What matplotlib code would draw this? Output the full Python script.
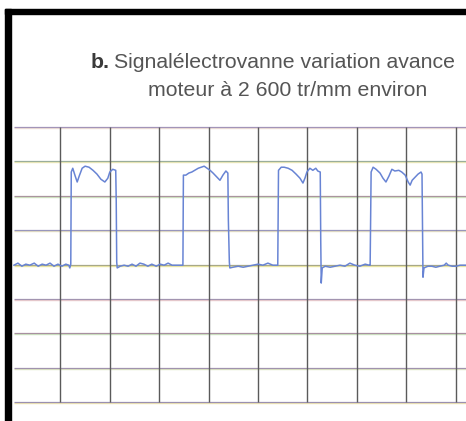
import matplotlib
matplotlib.use('Agg')
import matplotlib.pyplot as plt
from matplotlib.patches import Rectangle

# trace sampled off the scope screen, time and amplitude in grid divisions
t_div = [
    0.06, 0.14, 0.22, 0.30, 0.38, 0.47, 0.55, 0.63, 0.71, 0.79, 0.87, 0.95, 1.03, 1.11, 1.17, 1.19,
    1.21, 1.22, 1.25, 1.30, 1.34, 1.38, 1.44, 1.50, 1.58, 1.66, 1.74, 1.82, 1.90, 1.96, 2.00, 2.06, 2.12, 2.13, 2.14, 2.15,
    2.21, 2.29, 2.37, 2.45, 2.53, 2.61, 2.69, 2.77, 2.85, 2.94, 3.02, 3.10, 3.18, 3.26, 3.34, 3.48,
    3.49, 3.54, 3.60, 3.66, 3.72, 3.79, 3.85, 3.91, 3.97, 4.03, 4.09, 4.17, 4.23, 4.29, 4.35, 4.39, 4.40, 4.42, 4.43,
    4.49, 4.60, 4.70, 4.80, 4.90, 5.00, 5.10, 5.20, 5.30, 5.40,
    5.415, 5.47, 5.53, 5.61, 5.69, 5.77, 5.85, 5.91, 5.95, 5.99, 6.05, 6.11, 6.17, 6.21, 6.26, 6.27, 6.28, 6.30,
    6.36, 6.46, 6.56, 6.66, 6.76, 6.86, 6.96, 7.06, 7.17, 7.25, 7.27,
    7.29, 7.33, 7.39, 7.47, 7.53, 7.59, 7.65, 7.71, 7.77, 7.85, 7.91, 7.98, 8.04, 8.08, 8.12, 8.18, 8.24, 8.30, 8.32, 8.33, 8.34, 8.36,
    8.44, 8.52, 8.60, 8.68, 8.77, 8.81, 8.85, 8.93, 9.01, 9.09, 9.21,
]
u_div = [
    3.98, 4.04, 3.95, 4.01, 3.98, 4.04, 3.95, 4.01, 3.98, 4.04, 3.95, 4.01, 3.95, 4.01, 3.98, 3.90,
    4.01, 6.69, 6.80, 6.57, 6.40, 6.57, 6.80, 6.86, 6.83, 6.74, 6.63, 6.48, 6.40, 6.51, 6.69, 6.77, 6.74, 5.87, 4.07, 3.90,
    3.95, 3.98, 3.95, 4.01, 3.95, 4.04, 4.01, 3.95, 4.01, 3.95, 4.01, 3.98, 4.04, 3.98, 3.98, 3.98,
    6.60, 6.60, 6.66, 6.69, 6.74, 6.80, 6.83, 6.86, 6.80, 6.74, 6.66, 6.54, 6.45, 6.60, 6.72, 6.66, 5.29, 4.07, 3.90,
    3.92, 3.95, 3.92, 3.95, 3.98, 4.01, 3.98, 4.04, 3.98, 3.98,
    6.74, 6.83, 6.83, 6.80, 6.74, 6.63, 6.51, 6.37, 6.51, 6.69, 6.80, 6.74, 6.80, 6.72, 6.69, 4.71, 3.46, 3.90,
    3.95, 3.92, 3.95, 3.98, 3.95, 4.04, 3.98, 3.95, 4.01, 3.98, 3.98,
    6.69, 6.83, 6.77, 6.66, 6.51, 6.40, 6.57, 6.77, 6.72, 6.74, 6.69, 6.60, 6.40, 6.31, 6.45, 6.54, 6.63, 6.69, 6.63, 5.00, 3.63, 3.90,
    3.95, 3.95, 3.92, 3.95, 3.98, 4.04, 3.98, 3.95, 3.95, 3.98, 3.98,
]

v_lines = [1, 2, 3, 4, 5, 6, 7, 8, 9]
h_lines = [0, 1, 2, 3, 4, 5, 6, 7, 8]
# printed grid has slightly misregistered colour passes
h_colors = ['#9a90b0', '#a092ae', '#a890a0', '#a294b0', '#a8a888', '#9896bc', '#aa949e', '#9aae9a', '#a294b8']
h_fringe = ['#eee2a0', '#d6e2b4', '#c2e2b4', '#eac4c4', '#eee890', '#e2dab4', '#c8e4b4', '#eee8a8', '#eedad0']

title_1 = 'Signalélectrovanne variation avance'
title_2 = 'moteur à 2 600 tr/mm environ'

W, H = 466, 421
fig = plt.figure(figsize=(W / 100, H / 100), dpi=100)
fig.patch.set_facecolor('white')

ax = fig.add_axes([11 / W, (H - 402) / H, 455 / W, 275 / H])
ax.set_xlim(0, 455 / 49.4)
ax.set_ylim(0, 8)
ax.axis('off')

for y, c, f in zip(h_lines, h_colors, h_fringe):
    ax.hlines(y - 0.03, 0.06, 9.3, color=f, lw=1.0, alpha=0.8, clip_on=False)
    ax.hlines(y, 0.06, 9.3, color=c, lw=0.9, clip_on=False)
for x in v_lines:
    ax.vlines(x, 0, 8, color='#5a5a5a', lw=1.0, clip_on=False)

ax.plot(t_div, u_div, color='#6884d4', lw=1.1, clip_on=False, zorder=5)

# black frame corner
fig.patches.append(Rectangle((5 / W, 0), 6 / W, (H - 9) / H, transform=fig.transFigure,
                             color='black', zorder=10))
fig.patches.append(Rectangle((5 / W, (H - 14) / H), (W - 5) / W, 5 / H, transform=fig.transFigure,
                             color='black', zorder=10))

font = 'Liberation Sans'
r = fig.canvas.get_renderer()
tb = fig.text(91 / W, (H - 68) / H, 'b.', fontsize=15.3, fontweight='bold', color='#3a3a3a',
              family=font, va='baseline', ha='left')
bb = tb.get_window_extent(r)
fig.text((bb.x1 + 4) / W, (H - 68) / H, title_1, fontsize=15.3, color='#555555',
         family=font, va='baseline', ha='left')
fig.text(288 / W, (H - 96) / H, title_2, fontsize=15.3, color='#555555',
         family=font, va='baseline', ha='center')

fig.savefig('out.png', dpi=100)
